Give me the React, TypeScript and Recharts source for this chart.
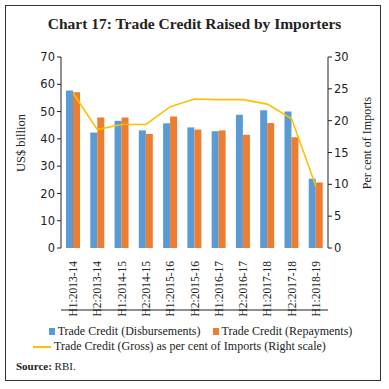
import React from 'react';
import { ComposedChart, Bar, Line, XAxis, YAxis } from 'recharts';

const periods = [
  'H1:2013-14', 'H2:2013-14', 'H1:2014-15', 'H2:2014-15', 'H1:2015-16', 'H2:2015-16',
  'H1:2016-17', 'H2:2016-17', 'H1:2017-18', 'H2:2017-18', 'H1:2018-19',
];
const disbursements = [57.7, 42.3, 46.6, 43.1, 45.7, 44.2, 42.8, 48.8, 50.5, 50.0, 25.4];
const repayments = [57.1, 47.8, 47.8, 41.8, 48.2, 43.4, 43.1, 41.5, 45.8, 40.6, 24.0];
const grossPctImports = [24.3, 18.6, 19.4, 19.4, 22.2, 23.4, 23.3, 23.3, 22.6, 20.3, 9.7];

const leftTicks = [0, 10, 20, 30, 40, 50, 60, 70];
const rightTicks = [0, 5, 10, 15, 20, 25, 30];
const boundaryTicks = [0, 1, 2, 3, 4, 5, 6, 7, 8, 9, 10, 11];

const BLUE = '#5B9BD5';
const ORANGE = '#ED7D31';
const GOLD = '#FFC000';
const SERIF = '"Liberation Serif", "DejaVu Serif", serif';
const SANS = '"DejaVu Sans", Verdana, sans-serif';

const data = periods.map((p, i) => ({
  period: p,
  disb: disbursements[i],
  repay: repayments[i],
  gross: grossPctImports[i],
}));

const PeriodTick = (props: any) => {
  const { x, y, payload } = props;
  return (
    <text
      x={x}
      y={y}
      transform={`rotate(-90, ${x}, ${y})`}
      textAnchor="end"
      dy={4}
      dx={-5}
      fontSize={11.5}
      fontFamily={SERIF}
      fill="#222"
    >
      {payload.value}
    </text>
  );
};

export default function App() {
  return (
    <div style={{ position: 'absolute', left: 0, top: 0, width: 389, height: 389, background: '#fff' }}>
      <div
        style={{
          position: 'absolute', left: 5, top: 5, width: 376, height: 376,
          border: '1px solid #333', boxSizing: 'border-box',
        }}
      />
      <div
        style={{
          position: 'absolute', left: 0, top: 15, width: 389, textAlign: 'center',
          fontFamily: SERIF, fontWeight: 'bold', fontSize: 15.5, color: '#222',
        }}
      >
        Chart 17: Trade Credit Raised by Importers
      </div>
      <div
        style={{
          position: 'absolute', left: 21, top: 143, transform: 'translate(-50%, -50%) rotate(-90deg)',
          fontFamily: SERIF, fontSize: 12.5, color: '#222', whiteSpace: 'nowrap',
        }}
      >
        US$ billion
      </div>
      <div
        style={{
          position: 'absolute', left: 367, top: 143, transform: 'translate(-50%, -50%) rotate(-90deg)',
          fontFamily: SERIF, fontSize: 12, color: '#222', whiteSpace: 'nowrap',
        }}
      >
        Per cent  of Imports
      </div>
      <div style={{ position: 'absolute', left: 0, top: 0 }}>
        <ComposedChart
          width={389}
          height={320}
          data={data}
          margin={{ top: 57, right: 21, bottom: 8, left: 21 }}
          barGap={0}
          barCategoryGap="20%"
        >
          <XAxis
            xAxisId="edges"
            type="number"
            domain={[0, 11]}
            ticks={boundaryTicks}
            tick={false}
            axisLine={{ stroke: '#222' }}
            tickLine={{ stroke: '#222' }}
            tickSize={5}
            height={2}
          />
          <XAxis
            dataKey="period"
            xAxisId="cat"
            interval={0}
            axisLine={false}
            tickLine={false}
            tick={<PeriodTick />}
            height={62}
          />
          <YAxis
            yAxisId="left"
            domain={[0, 70]}
            ticks={leftTicks}
            width={40}
            tickSize={4}
            axisLine={{ stroke: '#222' }}
            tickLine={{ stroke: '#222' }}
            tick={{ fontSize: 11.5, fontFamily: SANS, fill: '#222' }}
          />
          <YAxis
            yAxisId="right"
            orientation="right"
            domain={[0, 30]}
            ticks={rightTicks}
            width={40}
            tickSize={4}
            axisLine={{ stroke: '#222' }}
            tickLine={{ stroke: '#222' }}
            tick={{ fontSize: 11.5, fontFamily: SANS, fill: '#222' }}
          />
          <Bar xAxisId="cat" yAxisId="left" dataKey="disb" fill={BLUE} barSize={7} isAnimationActive={false} />
          <Bar xAxisId="cat" yAxisId="left" dataKey="repay" fill={ORANGE} barSize={7} isAnimationActive={false} />
          <Line
            xAxisId="cat"
            yAxisId="right"
            dataKey="gross"
            type="linear"
            stroke={GOLD}
            strokeWidth={1.6}
            dot={false}
            isAnimationActive={false}
          />
        </ComposedChart>
      </div>
      <div
        style={{
          position: 'absolute', left: 0, top: 324, width: 389,
          fontFamily: SERIF, fontSize: 12, color: '#222', lineHeight: '15px',
        }}
      >
        <div style={{ display: 'flex', justifyContent: 'center', alignItems: 'center', gap: 12, marginLeft: 12 }}>
          <span style={{ display: 'flex', alignItems: 'center' }}>
            <span style={{ width: 6, height: 7, background: BLUE, display: 'inline-block', marginRight: 3 }} />
            Trade Credit (Disbursements)
          </span>
          <span style={{ display: 'flex', alignItems: 'center' }}>
            <span style={{ width: 6, height: 7, background: ORANGE, display: 'inline-block', marginRight: 3 }} />
            Trade Credit (Repayments)
          </span>
        </div>
        <div style={{ display: 'flex', alignItems: 'center', marginLeft: 33 }}>
          <span style={{ width: 18, height: 2, background: GOLD, display: 'inline-block', marginRight: 3 }} />
          Trade Credit (Gross) as per cent of Imports (Right scale)
        </div>
      </div>
      <div
        style={{
          position: 'absolute', left: 16, top: 360, fontFamily: SERIF, fontSize: 11, color: '#222',
        }}
      >
        <b>Source:</b> RBI.
      </div>
    </div>
  );
}
